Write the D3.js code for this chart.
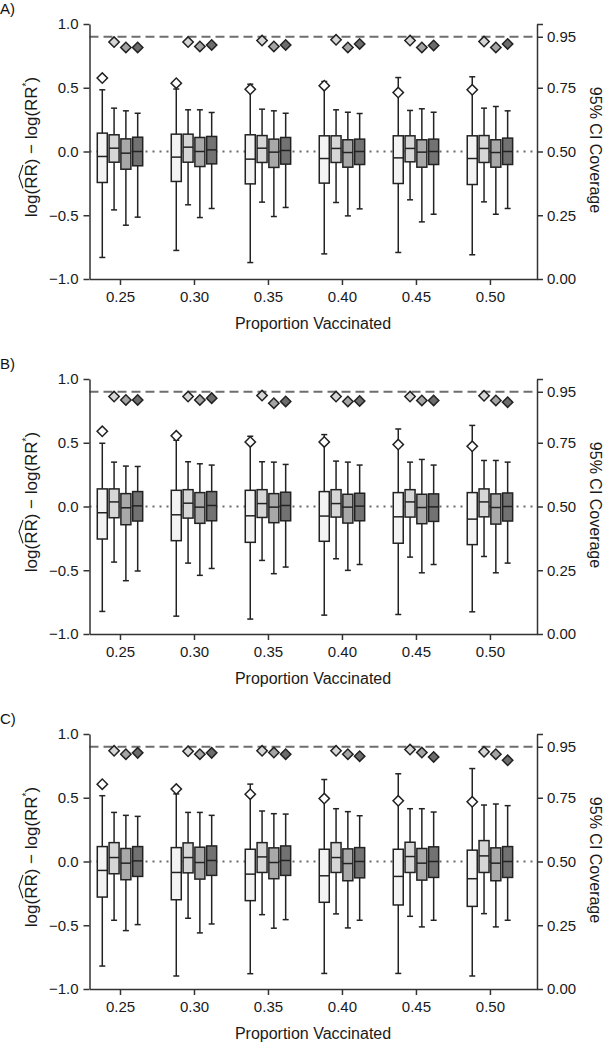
<!DOCTYPE html>
<html><head><meta charset="utf-8">
<script src="https://cdn.jsdelivr.net/npm/d3@7"></script>
<style>
html,body{margin:0;padding:0;background:#fff;}
svg{display:block;font-family:"Liberation Sans",Arial,Helvetica,sans-serif;}
</style></head>
<body><svg id="chart" width="607" height="1043"></svg>
<script>
// ---- data ----
const proportions = [0.25, 0.30, 0.35, 0.40, 0.45, 0.50];
const panelLabels = ["A)", "B)", "C)"];
const leftTicks = [-1.0, -0.5, 0.0, 0.5, 1.0];
const rightTicks = [0.00, 0.25, 0.50, 0.75, 0.95, 1.00];
const nominalCoverage = 0.95;
// box stats per proportion: [whiskerLow, q1, median, q3, whiskerHigh]
const A_s1 = [[-0.831,-0.243,-0.039,0.144,0.484],[-0.776,-0.235,-0.044,0.136,0.49],[-0.871,-0.254,-0.060,0.131,0.528],[-0.803,-0.248,-0.055,0.123,0.549],[-0.792,-0.251,-0.050,0.123,0.580],[-0.810,-0.259,-0.055,0.123,0.586]];
const A_s2 = [[-0.458,-0.084,0.026,0.131,0.340],[-0.418,-0.084,0.034,0.136,0.327],[-0.397,-0.086,0.026,0.125,0.332],[-0.400,-0.086,0.024,0.123,0.327],[-0.379,-0.081,0.024,0.123,0.322],[-0.395,-0.086,0.024,0.125,0.340]];
const A_s3 = [[-0.578,-0.139,-0.013,0.099,0.319],[-0.518,-0.118,0.000,0.110,0.327],[-0.510,-0.125,-0.005,0.097,0.319],[-0.505,-0.123,-0.008,0.092,0.308],[-0.552,-0.123,-0.005,0.092,0.335],[-0.492,-0.123,-0.008,0.092,0.353]];
const A_s4 = [[-0.515,-0.112,0.000,0.112,0.300],[-0.447,-0.097,0.013,0.118,0.306],[-0.439,-0.099,0.008,0.110,0.300],[-0.450,-0.102,0.000,0.097,0.298],[-0.492,-0.102,0.000,0.097,0.308],[-0.447,-0.102,0.000,0.105,0.319]];
const A_cov1 = [0.788,0.768,0.744,0.758,0.731,0.742];
const A_cov2 = [0.929,0.929,0.935,0.938,0.935,0.931];
const A_cov3 = [0.908,0.912,0.912,0.908,0.908,0.908];
const A_cov4 = [0.908,0.918,0.918,0.922,0.916,0.922];

const B_s1 = [[-0.823,-0.255,-0.049,0.138,0.496],[-0.860,-0.268,-0.065,0.127,0.520],[-0.883,-0.281,-0.073,0.127,0.551],[-0.852,-0.273,-0.075,0.117,0.564],[-0.847,-0.288,-0.081,0.109,0.608],[-0.826,-0.299,-0.099,0.109,0.636]];
const B_s2 = [[-0.436,-0.088,0.036,0.138,0.348],[-0.444,-0.091,0.026,0.132,0.351],[-0.423,-0.086,0.023,0.132,0.351],[-0.410,-0.083,0.023,0.132,0.356],[-0.397,-0.083,0.036,0.132,0.348],[-0.392,-0.081,0.036,0.138,0.361]];
const B_s3 = [[-0.582,-0.143,-0.010,0.101,0.317],[-0.540,-0.132,-0.005,0.109,0.335],[-0.527,-0.127,-0.005,0.101,0.348],[-0.501,-0.130,-0.005,0.096,0.348],[-0.520,-0.135,-0.008,0.096,0.369],[-0.520,-0.138,-0.008,0.099,0.361]];
const B_s4 = [[-0.506,-0.114,0.005,0.117,0.314],[-0.486,-0.112,0.008,0.117,0.325],[-0.475,-0.112,0.008,0.112,0.330],[-0.455,-0.112,0.003,0.104,0.325],[-0.455,-0.117,-0.003,0.099,0.325],[-0.444,-0.114,0.000,0.106,0.348]];
const B_cov1 = [0.795,0.777,0.753,0.753,0.743,0.736];
const B_cov2 = [0.931,0.931,0.935,0.931,0.931,0.934];
const B_cov3 = [0.918,0.918,0.905,0.912,0.916,0.916];
const B_cov4 = [0.918,0.925,0.912,0.914,0.916,0.909];

const C_s1 = [[-0.820,-0.279,-0.070,0.117,0.516],[-0.898,-0.300,-0.086,0.109,0.530],[-0.880,-0.307,-0.099,0.096,0.607],[-0.878,-0.320,-0.112,0.096,0.643],[-0.878,-0.341,-0.117,0.096,0.688],[-0.898,-0.352,-0.135,0.089,0.729]];
const C_s2 = [[-0.461,-0.096,0.031,0.148,0.385],[-0.445,-0.089,0.031,0.146,0.385],[-0.417,-0.086,0.036,0.148,0.396],[-0.411,-0.086,0.031,0.148,0.414],[-0.430,-0.086,0.039,0.151,0.414],[-0.409,-0.086,0.044,0.164,0.443]];
const C_s3 = [[-0.542,-0.143,-0.013,0.102,0.362],[-0.560,-0.138,-0.008,0.112,0.385],[-0.523,-0.135,-0.008,0.107,0.375],[-0.521,-0.151,-0.016,0.099,0.391],[-0.513,-0.146,-0.013,0.102,0.414],[-0.513,-0.151,-0.013,0.107,0.451]];
const C_s4 = [[-0.495,-0.117,0.005,0.117,0.354],[-0.490,-0.109,0.008,0.122,0.362],[-0.456,-0.109,0.008,0.122,0.372],[-0.461,-0.128,0.000,0.109,0.359],[-0.461,-0.125,0.000,0.115,0.388],[-0.461,-0.125,0.000,0.117,0.438]];
const C_cov1 = [0.803,0.784,0.764,0.747,0.738,0.734];
const C_cov2 = [0.934,0.932,0.934,0.934,0.939,0.930];
const C_cov3 = [0.921,0.921,0.927,0.921,0.927,0.921];
const C_cov4 = [0.926,0.926,0.921,0.913,0.910,0.897];

const panels = [
  {label: panelLabels[0], boxes: [A_s1, A_s2, A_s3, A_s4], cov: [A_cov1, A_cov2, A_cov3, A_cov4]},
  {label: panelLabels[1], boxes: [B_s1, B_s2, B_s3, B_s4], cov: [B_cov1, B_cov2, B_cov3, B_cov4]},
  {label: panelLabels[2], boxes: [C_s1, C_s2, C_s3, C_s4], cov: [C_cov1, C_cov2, C_cov3, C_cov4]}
];

// ---- styles ----
const boxFills = ["#f3f3f3", "#d6d6d6", "#a8a8a8", "#727272"];
const diamondFills = ["#ffffff", "#d6d6d6", "#a4a4a4", "#6c6c6c"];
const seriesOffsets = [-17.7, -5.9, 5.9, 17.7];
const boxW = 10, capW = 6, ink = "#222";

const svg = d3.select("#chart");
const x = d3.scaleLinear().domain([0.2294, 0.5318]).range([89.5, 537]);

panels.forEach((p, pi) => {
  const oy = pi * 355;
  const g = svg.append("g");
  const y = d3.scaleLinear().domain([-1, 1]).range([oy + 279, oy + 24]);
  const yc = d3.scaleLinear().domain([0, 1]).range([oy + 279, oy + 24]);

  // panel label
  g.append("text").attr("x", 0).attr("y", oy + 13.5).attr("font-size", 15).attr("fill", "#111").text(p.label);

  // reference lines
  g.append("line").attr("x1", x.range()[0]).attr("x2", x.range()[1])
    .attr("y1", y(0)).attr("y2", y(0))
    .attr("stroke", "#6a6a6a").attr("stroke-width", 2).attr("stroke-dasharray", "2,5");
  g.append("line").attr("x1", x.range()[0]).attr("x2", x.range()[1])
    .attr("y1", yc(nominalCoverage)).attr("y2", yc(nominalCoverage))
    .attr("stroke", "#6e6e6e").attr("stroke-width", 2).attr("stroke-dasharray", "9,5");

  // boxes
  p.boxes.forEach((series, si) => {
    series.forEach((s, i) => {
      const cx = x(proportions[i]) + seriesOffsets[si];
      const [lo, q1, med, q3, hi] = s;
      const bg = g.append("g").attr("stroke", ink).attr("stroke-width", 1.5);
      bg.append("line").attr("x1", cx).attr("x2", cx).attr("y1", y(hi)).attr("y2", y(lo));
      bg.append("line").attr("x1", cx - capW/2).attr("x2", cx + capW/2).attr("y1", y(hi)).attr("y2", y(hi));
      bg.append("line").attr("x1", cx - capW/2).attr("x2", cx + capW/2).attr("y1", y(lo)).attr("y2", y(lo));
      bg.append("rect").attr("x", cx - boxW/2).attr("width", boxW)
        .attr("y", y(q3)).attr("height", y(q1) - y(q3)).attr("fill", boxFills[si]);
      bg.append("line").attr("x1", cx - boxW/2).attr("x2", cx + boxW/2).attr("y1", y(med)).attr("y2", y(med));
    });
  });

  // coverage diamonds
  const sym = d3.symbol().type(d3.symbolSquare).size(54);
  p.cov.forEach((series, si) => {
    series.forEach((c, i) => {
      const cx = x(proportions[i]) + seriesOffsets[si];
      g.append("path").attr("d", sym())
        .attr("transform", `translate(${cx},${yc(c)}) rotate(45)`)
        .attr("fill", diamondFills[si]).attr("stroke", ink).attr("stroke-width", 1.5);
    });
  });

  // axes
  const styleAxis = sel => {
    sel.selectAll("path.domain").attr("stroke", "#333").attr("stroke-width", 1.5);
    sel.selectAll(".tick line").attr("stroke", "#333").attr("stroke-width", 1.5);
    sel.selectAll(".tick text").attr("fill", "#1a1a1a").attr("font-family", "Liberation Sans, Arial, sans-serif").attr("font-size", 15);
  };
  g.append("g").attr("transform", `translate(${x.range()[0]},0)`)
    .call(d3.axisLeft(y).tickValues(leftTicks).tickFormat(d3.format(".1f")).tickSize(6).tickSizeOuter(0).tickPadding(5))
    .call(styleAxis);
  g.append("g").attr("transform", `translate(${x.range()[1]},0)`)
    .call(d3.axisRight(yc).tickValues(rightTicks).tickFormat(d => d === 1 ? "" : d3.format(".2f")(d)).tickSize(6).tickSizeOuter(0).tickPadding(4))
    .call(styleAxis);
  g.append("g").attr("transform", `translate(0,${oy + 279})`)
    .call(d3.axisBottom(x).tickValues(proportions).tickFormat(d3.format(".2f")).tickSize(6).tickSizeOuter(0).tickPadding(6))
    .call(styleAxis);

  // x title
  g.append("text").attr("x", 313).attr("y", oy + 329).attr("text-anchor", "middle")
    .attr("font-size", 16).attr("fill", "#1a1a1a").text("Proportion Vaccinated");

  // right title
  g.append("text").attr("transform", `translate(590,${oy + 150}) rotate(90)`)
    .attr("text-anchor", "middle").attr("font-size", 16).attr("fill", "#1a1a1a").text("95% CI Coverage");

  // left title with hat over RR
  const lg = g.append("g").attr("transform", `translate(37,${oy + 147}) rotate(-90)`);
  const lt = lg.append("text").attr("text-anchor", "middle").attr("font-size", 17).attr("fill", "#1a1a1a");
  lt.append("tspan").text("log(RR) \u2212 log(RR");
  lt.append("tspan").attr("font-size", 10).attr("dy", -7).text("*");
  lt.append("tspan").attr("dy", 7).text(")");
  const e0 = lt.node().getExtentOfChar(4), e1 = lt.node().getExtentOfChar(5);
  const hx0 = e0.x + 0.5, hx1 = e1.x + e1.width - 0.5, hy = -14;
  lg.append("path").attr("d", `M${hx0},${hy} L${(hx0 + hx1) / 2},${hy - 4} L${hx1},${hy}`)
    .attr("fill", "none").attr("stroke", "#1a1a1a").attr("stroke-width", 1.1);
});
</script></body></html>
